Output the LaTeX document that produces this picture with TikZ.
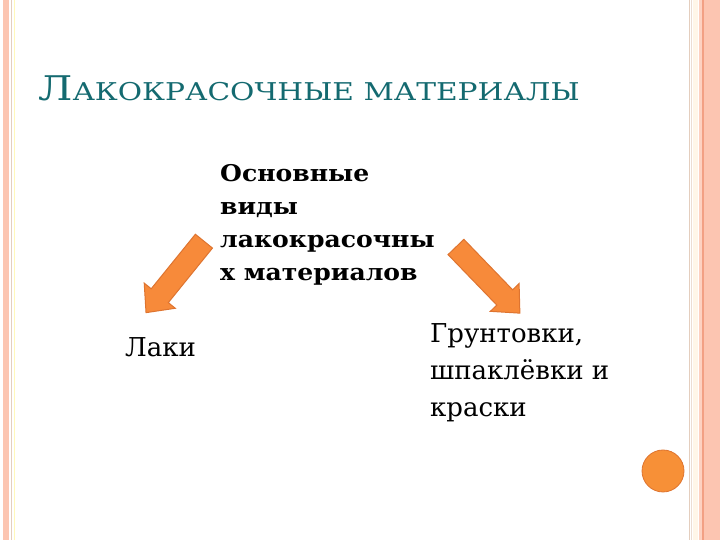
\documentclass[tikz,border=0pt]{standalone}
\usepackage{fontspec}
\setmainfont{DejaVu Serif}
\newfontfamily\titlefont[FakeStretch=1.21]{DejaVu Serif}
\newfontfamily\widebold[FakeStretch=1.09]{DejaVu Serif}
\usetikzlibrary{shapes.arrows}

\definecolor{titleteal}{RGB}{20,106,112}
\definecolor{paint}{RGB}{247,138,58}
\definecolor{paintedge}{RGB}{222,116,48}
\definecolor{salmon}{RGB}{252,197,177}
\definecolor{salmondark}{RGB}{242,160,132}
\definecolor{paleline}{RGB}{228,206,190}
\definecolor{cream}{RGB}{255,246,232}

\begin{document}
\begin{tikzpicture}[x=1pt,y=1pt,
  bigarrow/.style={single arrow, draw=paintedge, fill=paint, line width=1pt,
    inner xsep=0pt, inner ysep=10.5pt, minimum height=92pt,
    single arrow head extend=9pt, single arrow tip angle=85},
  label/.style={anchor=base west, inner sep=0pt, align=left}]
\useasboundingbox (0,0) rectangle (720,540);
% frame
\fill[salmon] (3,0) rectangle (9,540);
\draw[paleline, line width=0.8pt] (11.5,0) -- (11.5,540);
\draw[cream!80!yellow, line width=0.8pt] (14.5,0) -- (14.5,540);
\draw[paleline, line width=0.8pt] (689,0) -- (689,540);
\draw[paleline!70, line width=0.6pt] (691.5,0) -- (691.5,540);
\fill[cream] (693,0) rectangle (698,540);
\fill[salmon!80] (699,0) rectangle (702,540);
\fill[salmondark] (702,0) rectangle (704,540);
\fill[salmon] (704,0) rectangle (720,540);
% texts (base = last line)
\node[label, text=titleteal, font=\titlefont] (title) at (38,439)
  {{\fontsize{34}{36}\selectfont Л}{\fontsize{24.5}{28}\selectfont АКОКРАСОЧНЫЕ МАТЕРИАЛЫ}};
\node[label, font=\widebold\bfseries\fontsize{23}{33}\selectfont] (kinds) at (220,259)
  {Основные\\виды\\лакокрасочны\\х материалов};
\node[label, font=\fontsize{26}{37}\selectfont] (varnish) at (125,183) {Лаки};
\node[label, font=\fontsize{26}{37}\selectfont] (primer) at (430,123)
  {Грунтовки,\\шпаклёвки и\\краски};
% arrows
\node[bigarrow, rotate=231] (toleft) at (178.75,267.75) {};
\node[bigarrow, rotate=-46] (toright) at (483.75,264.25) {};
% dot
\node[circle, draw=paintedge, fill=paint!95!yellow, line width=0.8pt,
  minimum size=42pt, inner sep=0pt] (dot) at (663,69) {};
\end{tikzpicture}
\end{document}
